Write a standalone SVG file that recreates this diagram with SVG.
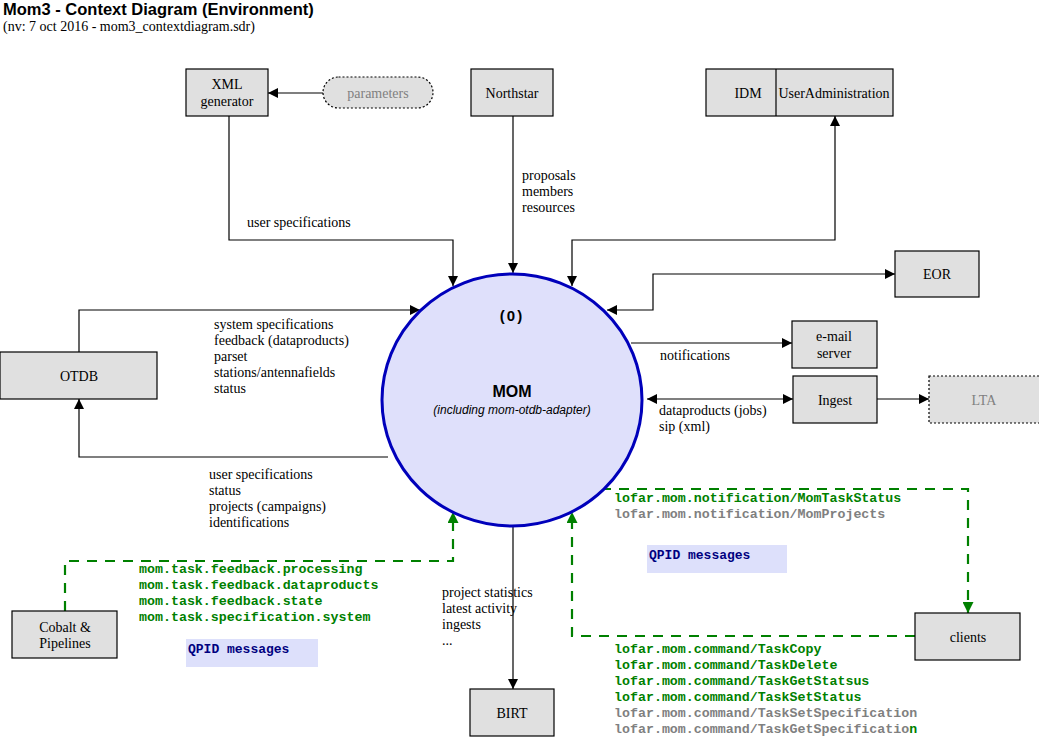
<svg xmlns="http://www.w3.org/2000/svg" width="1039" height="737" viewBox="0 0 1039 737">
<style>
.box{fill:#e0e0e0;stroke:#000;stroke-width:1.2}
.dot{fill:#e0e0e0;stroke:#000;stroke-width:1.2;stroke-dasharray:2,2}
.t{font-family:"Liberation Serif",serif;font-size:14px;fill:#000}
.c{text-anchor:middle}
.g{fill:#808080}
.ln{fill:none;stroke:#000;stroke-width:1.2}
.gd{fill:none;stroke:#008000;stroke-width:2.2;stroke-dasharray:10,8}
.m{font-family:"Liberation Mono",monospace;font-size:13.3px;font-weight:bold;fill:#008000}
.mg{fill:#808080}
.q{font-family:"Liberation Mono",monospace;font-size:13px;font-weight:bold;fill:#000080}
</style>
<defs>
<marker id="a" viewBox="0 0 10 10" refX="10" refY="5" markerWidth="11" markerHeight="10" markerUnits="userSpaceOnUse" orient="auto-start-reverse"><path d="M0,0L10,5L0,10z" fill="#000"/></marker>
<marker id="ag" viewBox="0 0 10 10" refX="10" refY="5" markerWidth="12" markerHeight="11" markerUnits="userSpaceOnUse" orient="auto"><path d="M0,0L10,5L0,10z" fill="#008000"/></marker>
</defs>
<rect width="1039" height="737" fill="#fff"/>
<g id="title">
<text x="3" y="15" style="font-family:'Liberation Sans',sans-serif;font-size:16.5px;font-weight:bold">Mom3 - Context Diagram (Environment)</text>
<text x="3" y="31" class="t">(nv: 7 oct 2016 - mom3_contextdiagram.sdr)</text>
</g>
<g id="connectors">
<path class="ln" d="M323,93H268" marker-end="url(#a)"/>
<path class="ln" d="M229,116V240H453V286" marker-end="url(#a)"/>
<path class="ln" d="M513,116V273" marker-end="url(#a)"/>
<path class="ln" d="M572,286V240H835V116" marker-start="url(#a)" marker-end="url(#a)"/>
<path class="ln" d="M607,310H653V274H895" marker-start="url(#a)" marker-end="url(#a)"/>
<path class="ln" d="M631,343H792" marker-end="url(#a)"/>
<path class="ln" d="M647,399H793" marker-start="url(#a)" marker-end="url(#a)"/>
<path class="ln" d="M877,399H929" marker-end="url(#a)"/>
<path class="ln" d="M79,352V310H420" marker-end="url(#a)"/>
<path class="ln" d="M388,457H79V399" marker-end="url(#a)"/>
<path class="ln" d="M513,527V689" marker-end="url(#a)"/>
<path class="gd" d="M65,611V561H453V512" marker-end="url(#ag)"/>
<path class="gd" d="M601,489H968V613" marker-end="url(#ag)"/>
<path class="gd" d="M915,636H572V512" marker-end="url(#ag)"/>
<g class="t">
<text x="247" y="227">user specifications</text>
<text x="522" y="180">proposals</text>
<text x="522" y="196">members</text>
<text x="522" y="212">resources</text>
<text x="214" y="329">system specifications</text>
<text x="214" y="345">feedback (dataproducts)</text>
<text x="214" y="361">parset</text>
<text x="214" y="377">stations/antennafields</text>
<text x="214" y="393">status</text>
<text x="209" y="479">user specifications</text>
<text x="209" y="495">status</text>
<text x="209" y="511">projects (campaigns)</text>
<text x="209" y="527">identifications</text>
<text x="660" y="360">notifications</text>
<text x="659" y="415">dataproducts (jobs)</text>
<text x="659" y="431">sip (xml)</text>
<text x="442" y="597">project statistics</text>
<text x="442" y="613">latest activity</text>
<text x="442" y="629">ingests</text>
<text x="442" y="645">...</text>
</g>
<g class="m">
<text x="139" y="573">mom.task.feedback.processing</text>
<text x="139" y="589">mom.task.feedback.dataproducts</text>
<text x="139" y="605">mom.task.feedback.state</text>
<text x="139" y="621">mom.task.specification.system</text>
<text x="614" y="502">lofar.mom.notification/MomTaskStatus</text>
<text x="614" y="518" class="mg">lofar.mom.notification/MomProjects</text>
<text x="614" y="653">lofar.mom.command/TaskCopy</text>
<text x="614" y="669">lofar.mom.command/TaskDelete</text>
<text x="614" y="685">lofar.mom.command/TaskGetStatsus</text>
<text x="614" y="701">lofar.mom.command/TaskSetStatus</text>
<text x="614" y="717" class="mg">lofar.mom.command/TaskSetSpecification</text>
<text x="614" y="733"><tspan class="mg">lofar.mom.command/TaskGetSpecificatio</tspan>n</text>
</g>
<rect x="186" y="639" width="132" height="28" fill="#dde0fb"/>
<text x="188" y="653" class="q">QPID messages</text>
<rect x="647" y="545" width="140" height="28" fill="#dde0fb"/>
<text x="649" y="559" class="q">QPID messages</text>
</g>
<g id="mom">
<ellipse cx="512" cy="400" rx="130" ry="126" fill="#dfe0fb" stroke="#0000bb" stroke-width="3"/>
<text x="512" y="321" class="c" style="font-family:'Liberation Sans',sans-serif;font-size:15px;font-weight:bold;letter-spacing:2px">(0)</text>
<text x="512" y="397" class="c" style="font-family:'Liberation Sans',sans-serif;font-size:16px;font-weight:bold">MOM</text>
<text x="512" y="414" class="c" style="font-family:'Liberation Sans',sans-serif;font-size:12px;font-style:italic">(including mom-otdb-adapter)</text>
</g>
<g id="xmlgen"><rect class="box" x="186" y="69" width="82" height="47"/><text class="t c" x="227" y="89">XML</text><text class="t c" x="227" y="106">generator</text></g>
<g id="parameters"><rect class="dot" x="323" y="77" width="110" height="31" rx="15.5"/><text class="t c g" x="378" y="98">parameters</text></g>
<g id="northstar"><rect class="box" x="471" y="69" width="82" height="47"/><text class="t c" x="512" y="98">Northstar</text></g>
<g id="idm"><rect class="box" x="706" y="69" width="187" height="47"/><line x1="776" y1="69" x2="776" y2="116" stroke="#000" stroke-width="1.2"/><text class="t c" x="748" y="98">IDM</text><text class="t c" x="834" y="98">UserAdministration</text></g>
<g id="eor"><rect class="box" x="895" y="251" width="84" height="46"/><text class="t c" x="937" y="279">EOR</text></g>
<g id="otdb"><rect class="box" x="0" y="352" width="157" height="47"/><text class="t c" x="79" y="381">OTDB</text></g>
<g id="email"><rect class="box" x="792" y="321" width="85" height="47"/><text class="t c" x="834" y="341">e-mail</text><text class="t c" x="834" y="358">server</text></g>
<g id="ingest"><rect class="box" x="793" y="376" width="84" height="47"/><text class="t c" x="835" y="405">Ingest</text></g>
<g id="lta"><rect class="dot" x="929" y="376" width="112" height="47"/><text class="t c g" x="984" y="405">LTA</text></g>
<g id="cobalt"><rect class="box" x="12" y="611" width="105" height="47"/><text class="t c" x="65" y="632">Cobalt &amp;</text><text class="t c" x="65" y="648">Pipelines</text></g>
<g id="clients"><rect class="box" x="915" y="613" width="105" height="47"/><text class="t c" x="968" y="642">clients</text></g>
<g id="birt"><rect class="box" x="470" y="689" width="84" height="47"/><text class="t c" x="512" y="718">BIRT</text></g>
</svg>
